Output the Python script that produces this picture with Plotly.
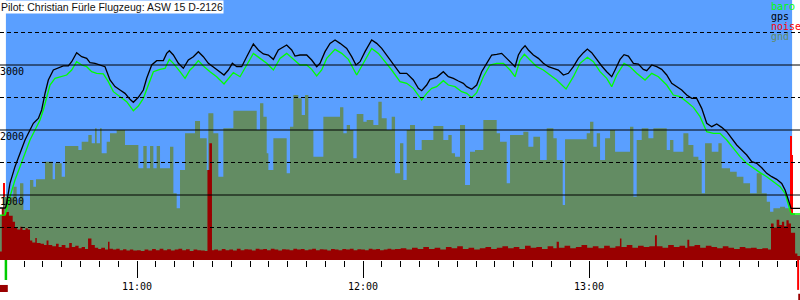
import plotly.graph_objects as go

# time in minutes after 10:00
title_text = "Pilot: Christian Fürle Flugzeug: ASW 15 D-2126"
x_start, x_end = 23.63, 236.0
flight_start, flight_end = 25.2, 233.9
takeoff_time, landing_time = 25.2, 235.5

gps_t = [23.63, 25.0, 25.22, 26.28, 27.61, 28.94, 30.27, 31.59, 32.48, 33.81, 34.69, 35.58, 36.46, 37.79, 39.12,
         40.44, 41.77, 42.66, 43.98, 45.31, 46.64, 47.52, 48.85, 50.18, 51.51, 52.83, 54.16, 55.49, 56.81,
         58.14, 59.03, 60.36, 61.68, 62.57, 63.90, 65.22, 66.99, 67.88, 68.59, 69.65, 70.98, 72.30, 73.63,
         74.96, 76.28, 77.61, 78.94, 80.71, 82.04, 83.10, 84.25, 85.31, 86.46, 87.79, 89.12, 90.89, 92.21,
         93.54, 94.87, 96.20, 97.52, 99.73, 101.06, 101.95, 103.28, 105.05, 106.37, 107.70, 108.59, 109.91,
         111.24, 112.57, 113.90, 115.67, 116.99, 118.14, 119.21, 120.53, 122.30, 123.63, 124.96, 126.28,
         127.61, 129.82, 131.59, 133.36, 134.69, 135.57, 136.90, 137.78, 139.55, 141.32, 142.65, 143.98,
         145.31, 146.63, 147.52, 148.85, 150.17, 151.50, 152.83, 154.16, 155.48, 156.81, 158.14, 159.47,
         160.35, 161.24, 162.12, 163.01, 163.89, 165.22, 166.55, 167.87, 169.20, 170.53, 171.86, 173.18,
         174.51, 175.84, 177.17, 178.50, 179.55, 180.71, 182.04, 183.36, 184.69, 186.02, 186.90, 188.23,
         189.29, 190.44, 191.77, 193.10, 194.42, 195.31, 196.64, 197.96, 199.29, 200.62, 201.95, 203.27,
         204.60, 205.93, 207.26, 208.58, 209.91, 211.24, 212.57, 213.89, 215.22, 216.55, 217.88, 219.20,
         220.53, 221.86, 223.19, 224.51, 225.84, 227.17, 228.50, 229.82, 231.15, 232.04, 232.92, 233.63, 236.0]
gps_v = [800, 800, 820, 1180, 1436, 1641, 1846, 2000, 2103, 2179, 2308, 2564, 2769, 2923, 2949,
         2985, 2985, 3051, 3190, 3128, 3102, 3036, 3026, 3000, 2974, 2769, 2667, 2615, 2564,
         2472, 2426, 2503, 2615, 2795, 3000, 3067, 3067, 3179, 3220, 3154, 3026, 2949, 3077,
         3128, 3205, 3128, 3026, 2949, 2897, 2846, 2923, 3026, 2974, 2974, 3128, 3323, 3231,
         3169, 3154, 3087, 3231, 3308, 3231, 3138, 3154, 3154, 3077, 2974, 3026, 3205,
         3333, 3385, 3333, 3256, 3128, 3000, 3051, 3205, 3385, 3333, 3256, 3154,
         3051, 2872, 2872, 2769, 2641, 2605, 2692, 2779, 2810, 2897, 2820, 2795,
         2754, 2718, 2667, 2626, 2692, 2897, 3026, 3154, 3164, 3179, 3102, 3026,
         2974, 3154, 3241, 3297, 3231, 3154, 3102, 3026, 2974, 2949, 2923, 2846,
         2872, 2974, 3102, 3190, 3246, 3190, 3077, 2985, 2897, 2820, 2923, 3087,
         3159, 3138, 3026, 3015, 2933, 2913, 3000, 2974, 2933, 2846, 2718, 2667,
         2615, 2538, 2487, 2487, 2333, 2103, 2051, 2092, 2041, 1974, 1872, 1769,
         1692, 1615, 1513, 1487, 1420, 1333, 1282, 1241, 1179, 1077, 923, 795, 795]

baro_t = [23.63, 24.96, 26.28, 27.61, 28.94, 30.27, 31.59, 32.92, 34.25, 35.13, 36.02, 36.90, 38.23, 39.56,
          41.33, 42.66, 43.98, 45.31, 46.64, 47.97, 49.29, 51.06, 52.39, 53.72, 55.49, 57.26, 59.03, 60.36,
          61.68, 63.01, 64.34, 66.11, 67.43, 68.59, 69.65, 71.42, 72.75, 74.07, 74.96, 76.28, 77.61, 79.38,
          81.15, 83.10, 84.69, 85.58, 87.35, 89.12, 90.89, 92.66, 94.43, 96.20, 97.96, 99.73, 101.50,
          103.28, 105.05, 106.37, 107.70, 109.03, 110.35, 112.57, 114.34, 116.11, 118.32, 120.09, 122.30,
          124.07, 125.84, 127.61, 129.82, 131.59, 133.36, 134.69, 135.57, 136.90, 138.23, 139.55, 141.32,
          142.65, 144.42, 146.19, 147.52, 148.85, 150.17, 151.94, 153.71, 155.48, 157.26, 159.03, 160.35,
          161.68, 162.83, 164.33, 166.10, 167.87, 169.65, 171.42, 173.89, 175.84, 177.61, 179.55, 181.15,
          182.92, 184.69, 186.02, 187.35, 189.29, 190.88, 192.65, 194.87, 196.64, 198.41, 200.62, 202.39,
          204.16, 205.93, 207.70, 209.47, 211.24, 213.01, 214.78, 216.55, 218.32, 220.09, 221.86, 223.63,
          225.40, 227.17, 228.94, 230.71, 232.04, 232.92, 233.63, 236.0]
baro_v = [690, 692, 974, 1231, 1436, 1641, 1846, 2000, 2154, 2308, 2513, 2692, 2795, 2820,
          2846, 2923, 3051, 3000, 2974, 2897, 2872, 2862, 2744, 2590, 2513, 2436, 2297, 2369,
          2487, 2692, 2897, 2933, 2949, 3087, 3026, 2897, 2795, 2923, 2974, 3067, 2985, 2897,
          2820, 2708, 2820, 2882, 2820, 3000, 3179, 3102, 3026, 2923, 3102, 3179, 3087,
          3000, 3000, 2933, 2831, 2923, 3102, 3241, 3179, 3087, 2846, 3026, 3256,
          3179, 3051, 2923, 2744, 2718, 2641, 2538, 2462, 2564, 2641, 2667, 2759,
          2692, 2667, 2590, 2564, 2497, 2574, 2820, 3000, 3026, 3026, 2923, 2820,
          3077, 3164, 3077, 2974, 2923, 2846, 2769, 2631, 2820, 3026, 3118, 3051,
          2897, 2795, 2667, 2846, 3026, 2974, 2872, 2769, 2872, 2820, 2692, 2538,
          2513, 2436, 2349, 2205, 1974, 1949, 1949, 1846, 1718, 1590, 1487, 1410,
          1344, 1282, 1205, 1128, 1026, 846, 708, 708]

gnd_t = [23.63, 24.51, 27.17, 28.05, 28.94, 29.83, 31.59, 32.48, 33.19, 35.58, 37.61, 38.23, 40.00, 40.89,
         44.43, 45.31, 47.08, 47.97, 48.85, 49.29, 50.18, 50.62, 51.95, 52.83, 54.60, 56.81, 60.36, 61.68,
         62.57, 63.45, 64.34, 65.22, 66.11, 68.76, 69.65, 70.53, 71.42, 72.75, 75.40, 76.73, 78.50, 78.94,
         80.27, 81.59, 82.92, 85.58, 91.77, 92.66, 93.54, 94.43, 94.87, 96.20, 99.73, 100.62, 101.50,
         102.83, 103.72, 104.60, 105.49, 106.82, 109.47, 113.90, 114.78, 115.67, 116.55, 117.43, 118.32,
         120.09, 120.97, 122.74, 124.07, 124.96, 126.28, 127.61, 128.50, 129.82, 130.70, 131.59, 132.48,
         133.80, 135.57, 138.67, 141.32, 142.65, 143.54, 144.42, 145.75, 147.08, 148.40, 149.73, 151.94,
         155.48, 156.37, 158.14, 159.03, 162.56, 163.89, 165.22, 166.99, 168.76, 170.53, 171.42, 173.01,
         173.63, 179.38, 180.27, 181.15, 182.04, 182.92, 184.25, 185.58, 186.90, 190.88, 191.77, 192.65,
         193.98, 195.75, 197.08, 200.62, 201.50, 202.39, 205.04, 206.37, 207.70, 209.03, 209.91, 210.80,
         212.57, 214.34, 215.22, 217.43, 219.20, 220.97, 222.74, 224.51, 225.84, 227.17, 228.05, 228.94,
         230.71, 232.04, 233.36, 234.69, 236.0]
gnd_v = [692, 974, 1128, 872, 1179, 769, 1231, 1128, 1241, 1513, 1241, 1487, 1282, 1754,
         1692, 1821, 1923, 1795, 2026, 1795, 2026, 1641, 1821, 1949, 2000, 1769, 1410, 1754,
         1410, 1754, 1410, 1754, 1410, 1744, 1026, 795, 1385, 1949, 2138, 1872, 1385, 2256,
         1949, 1282, 2026, 2297, 2000, 2410, 2205, 1641, 1385, 1872, 1333, 2051, 2538,
         2487, 2231, 2538, 2000, 1590, 2205, 2349, 1949, 2077, 2000, 1564, 2246,
         2128, 2154, 2077, 2436, 2179, 2000, 2205, 1333, 1795, 1231, 2000, 2077,
         1692, 1846, 2062, 1846, 1923, 1641, 1590, 2077, 1154, 1667, 1692, 2154,
         1949, 1821, 1179, 1923, 1974, 1744, 1897, 1538, 2026, 1872, 1538, 846,
         1856, 1949, 2128, 1744, 1949, 1538, 1872, 2000, 1667, 2051, 974, 1846,
         2026, 1872, 2026, 1692, 1846, 1667, 1949, 1769, 1590, 1538, 1026, 1795,
         1667, 1795, 1410, 1359, 1282, 1179, 1026, 1333, 1026, 897, 744, 795,
         821, 795, 718, 692, 692]

noise_t = [23.63, 24.1, 24.6, 25.3, 26.0, 27.0, 27.6, 28.2, 29.0, 29.6, 30.4, 31.0, 31.6, 32.2, 33.0, 33.4,
           34.4, 35.3, 36.0, 36.5, 37.5, 38.5, 39.2, 40.0, 41.0, 42.0, 42.7, 43.6, 44.5, 45.3, 46.2, 47.0,
           47.9, 48.8, 49.7, 50.5, 51.5, 52.3, 52.7, 53.6, 54.5, 55.4, 56.3, 57.2, 58.1, 59.0, 60.0, 61.0,
           62.0, 63.0, 64.0, 65.0, 66.0, 67.0, 68.0, 69.0, 70.0, 71.0, 72.0, 73.0, 74.0, 75.0, 76.0, 77.0,
           78.0, 78.7, 79.2, 79.9, 80.5, 81.5, 82.5, 83.5, 84.5, 85.5, 86.5, 87.5, 88.5, 89.5, 90.5, 91.5,
           92.5, 93.5, 94.5, 95.5, 96.5, 97.5, 98.5, 99.5, 100.5, 101.5, 102.5, 103.5, 104.5, 105.5, 106.5,
           107.5, 108.5, 109.5, 110.5, 111.5, 112.5, 113.5, 114.5, 115.5, 116.5, 117.5, 118.5, 119.5, 120.5,
           121.5, 122.5, 123.5, 124.5, 125.5, 126.5, 127.5, 128.5, 130.0, 131.5, 133.0, 134.5, 136.0, 137.5,
           139.0, 140.5, 142.0, 143.5, 145.0, 146.5, 148.0, 149.5, 151.0, 152.5, 154.0, 155.5, 157.0, 158.5,
           160.0, 161.5, 163.0, 164.5, 166.0, 167.5, 169.0, 170.5, 171.4, 172.0, 173.5, 175.0, 176.5, 178.0,
           179.5, 181.0, 182.5, 184.0, 185.5, 187.0, 188.2, 188.6, 190.0, 191.5, 193.0, 194.5, 196.0, 197.5,
           198.0, 199.5, 201.0, 202.5, 204.0, 205.5, 206.1, 206.6, 208.0, 209.5, 211.0, 212.5, 214.0, 215.5,
           217.0, 218.5, 220.0, 221.5, 223.0, 224.5, 226.0, 227.5, 228.3, 229.0, 229.8, 230.5, 231.2, 231.8,
           232.4, 233.0, 233.6, 234.7, 235.3, 236.0]
noise_v = [130, 800, 700, 740, 680, 590, 500, 470, 510, 460, 490, 470, 300, 270, 340, 260,
           250, 230, 300, 230, 210, 250, 200, 230, 190, 260, 200, 220, 180, 200, 170, 330,
           230, 190, 170, 190, 160, 280, 175, 160, 175, 150, 165, 145, 160, 145, 150, 140,
           160, 145, 170, 150, 175, 150, 165, 145, 160, 175, 150, 165, 140, 160, 150, 145,
           140, 1385, 1795, 150, 160, 145, 170, 150, 160, 145, 175, 150, 165, 160, 145, 175,
           160, 170, 150, 175, 160, 145, 165, 160, 150, 175, 160, 170, 150, 160, 175,
           150, 165, 160, 145, 170, 160, 150, 170, 160, 175, 150, 165, 160, 150,
           175, 160, 170, 150, 160, 175, 160, 170, 180, 160, 190, 170, 200, 170,
           190, 160, 200, 180, 210, 170, 190, 160, 180, 200, 170, 190, 210, 180,
           200, 170, 220, 190, 200, 170, 210, 180, 280, 190, 220, 180, 200, 230,
           190, 210, 180, 220, 190, 210, 330, 200, 230, 190, 220, 200, 210, 380,
           210, 190, 230, 200, 220, 190, 310, 210, 230, 190, 220, 200, 180, 210,
           190, 170, 200, 180, 190, 170, 180, 160, 560, 500, 620, 540, 590, 520,
           610, 560, 420, 100, 60, 60]

peak_t = [24.69, 233.55, 233.85]
peak_v = [1185, 1908, 1615]

grid_solid = [1000, 2000, 3000]
grid_dashed = [500, 1500, 2500, 3500]
y_labels = ["1000", "2000", "3000"]
hour_ticks = [60, 120, 180]
hour_text = ["11:00", "12:00", "13:00"]
legend_names = ["baro", "gps", "noise", "gnd"]
legend_colors = ["#00ff00", "#000000", "#ff0000", "#638c63"]

BLUE = "#5a9fff"
GND = "#638c63"
NOISE = "#990000"

fig = go.Figure()
fig.add_trace(go.Scatter(x=gnd_t, y=gnd_v, mode="lines", line=dict(shape="hv", width=0, color=GND),
                         fill="tozeroy", fillcolor=GND, hoverinfo="skip"))
fig.add_trace(go.Scatter(x=noise_t, y=noise_v, mode="lines", line=dict(shape="hv", width=0, color=NOISE),
                         fill="tozeroy", fillcolor=NOISE, hoverinfo="skip"))
fig.add_trace(go.Bar(x=peak_t, y=peak_v, width=0.28, marker=dict(color="#ff0000", line=dict(width=0))))
fig.add_trace(go.Scatter(x=baro_t, y=baro_v, mode="lines", line=dict(color="#00ff00", width=1.3)))
fig.add_trace(go.Scatter(x=gps_t, y=gps_v, mode="lines", line=dict(color="#000000", width=1.3)))

shapes = [dict(type="rect", xref="x", yref="y", x0=flight_start, x1=flight_end, y0=0, y1=4000,
               fillcolor=BLUE, line=dict(width=0), layer="below")]
for g in grid_solid:
    shapes.append(dict(type="line", xref="paper", yref="y", x0=0, x1=1, y0=g, y1=g,
                       line=dict(color="black", width=1), layer="above"))
for g in grid_dashed:
    shapes.append(dict(type="line", xref="paper", yref="y", x0=0, x1=1, y0=g, y1=g,
                       line=dict(color="black", width=1, dash="4px,3px"), layer="above"))
# take-off / landing markers below the axis
shapes.append(dict(type="line", xref="x", yref="paper", x0=takeoff_time, x1=takeoff_time, y0=0, y1=-0.077,
                   line=dict(color="#00cc00", width=2.5)))
shapes.append(dict(type="rect", xref="x", yref="paper", x0=x_start, x1=takeoff_time + 0.5, y0=-0.096, y1=-0.123,
                   fillcolor=NOISE, line=dict(width=0)))
shapes.append(dict(type="line", xref="x", yref="paper", x0=landing_time, x1=landing_time, y0=0, y1=-0.115,
                   line=dict(color="#ff0000", width=2)))
shapes.append(dict(type="line", xref="x", yref="paper", x0=landing_time + 0.3, x1=landing_time + 0.3,
                   y0=-0.13, y1=-0.155, line=dict(color=NOISE, width=2)))

annotations = [dict(text=title_text, xref="paper", yref="paper", x=0, y=1, xanchor="left", yanchor="top",
                    showarrow=False, bgcolor="white", borderpad=0,
                    font=dict(family="Liberation Sans", size=10.5, color="#111111"))]
for lab, val in zip(y_labels, grid_solid):
    annotations.append(dict(text=lab, xref="paper", yref="y", x=0, y=val, xanchor="left", yanchor="top",
                            showarrow=False, xshift=-2, yshift=1,
                            font=dict(family="DejaVu Sans Mono", size=10, color="black")))
for i, (name, col) in enumerate(zip(legend_names, legend_colors)):
    annotations.append(dict(text=name, xref="paper", yref="paper", x=770 / 800, y=1 - (6.5 + 10 * i) / 260,
                            xanchor="left", yanchor="middle", showarrow=False, borderpad=0,
                            font=dict(family="DejaVu Sans Mono", size=10, color=col)))

fig.update_layout(
    width=800, height=300, margin=dict(l=0, r=0, t=0, b=40),
    paper_bgcolor="white", plot_bgcolor="white", showlegend=False,
    shapes=shapes, annotations=annotations, bargap=0,
    xaxis=dict(range=[x_start, x_end], showgrid=False, zeroline=False, showline=False,
               tickmode="array", tickvals=hour_ticks, ticktext=hour_text,
               ticks="outside", ticklen=17, tickwidth=1, tickcolor="black",
               tickfont=dict(family="DejaVu Sans Mono", size=10, color="black"),
               minor=dict(tickmode="linear", tick0=0, dtick=5, ticks="outside", ticklen=6,
                          tickwidth=1, tickcolor="black", showgrid=False)),
    yaxis=dict(range=[0, 4000], showgrid=False, zeroline=False, showticklabels=False, ticks=""),
)

fig.write_html("out.html")
